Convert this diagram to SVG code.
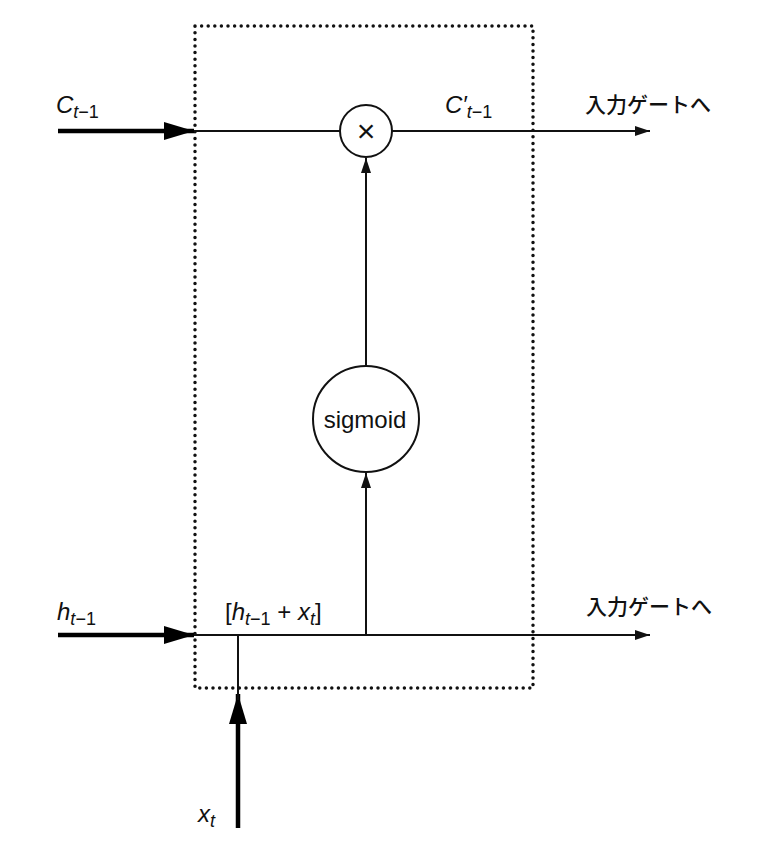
<svg xmlns="http://www.w3.org/2000/svg" width="778" height="862" viewBox="0 0 778 862">
  <style>
    .thin { stroke: #111; stroke-width: 2; fill: none; }
    .thick { stroke: #000; stroke-width: 4.5; fill: none; }
    .dots { stroke: #111; stroke-width: 3.5; fill: none; stroke-linecap: round; stroke-dasharray: 0 6.6; }
    .node { fill: #fff; stroke: #111; stroke-width: 2; }
    .lbl { font-family: "Liberation Sans", Arial, sans-serif; fill: #111; }
    .var { font-style: italic; font-size: 24px; }
    .sub { font-size: 18px; }
    .up { font-style: normal; }
    .jp { font-family: "Noto Sans CJK JP", "Liberation Sans", sans-serif; font-size: 21px; font-weight: 500; fill: #111; }
  </style>
  <defs>
    <marker id="bigHead" markerUnits="userSpaceOnUse" markerWidth="32" markerHeight="18" refX="30" refY="9" orient="auto">
      <path d="M0,0 L30,9 L0,18 Z" fill="#000"/>
    </marker>
    <marker id="smallHead" markerUnits="userSpaceOnUse" markerWidth="16" markerHeight="10" refX="15" refY="5" orient="auto">
      <path d="M0,0 L15,5 L0,10 Z" fill="#111"/>
    </marker>
  </defs>

  <rect width="778" height="862" fill="#fff"/>

  <!-- dotted cell boundary -->
  <rect class="dots" x="195" y="26" width="338" height="662"/>

  <g id="connectors">
    <!-- cell state path -->
    <line class="thick" x1="58" y1="131" x2="194" y2="131" marker-end="url(#bigHead)"/>
    <line class="thin" x1="194" y1="131" x2="340" y2="131"/>
    <line class="thin" x1="392" y1="131" x2="650" y2="131" marker-end="url(#smallHead)"/>
    <!-- hidden state path -->
    <line class="thick" x1="58" y1="635" x2="194" y2="635" marker-end="url(#bigHead)"/>
    <line class="thin" x1="194" y1="635" x2="650" y2="635" marker-end="url(#smallHead)"/>
    <!-- input x_t -->
    <line class="thick" x1="238" y1="828" x2="238" y2="694" marker-end="url(#bigHead)"/>
    <line class="thin" x1="238" y1="700" x2="238" y2="635"/>
    <!-- concat to sigmoid -->
    <line class="thin" x1="366" y1="635" x2="366" y2="473" marker-end="url(#smallHead)"/>
    <!-- sigmoid to multiply -->
    <line class="thin" x1="366" y1="366" x2="366" y2="158" marker-end="url(#smallHead)"/>
  </g>

  <g id="multiply">
    <circle class="node" cx="366" cy="131" r="26"/>
    <text class="lbl" x="366" y="142" font-size="32" text-anchor="middle">×</text>
  </g>

  <g id="sigmoid">
    <circle class="node" cx="366" cy="419" r="53"/>
    <text class="lbl" x="365" y="428" font-size="24" text-anchor="middle">sigmoid</text>
  </g>

  <g id="label-c-prev">
    <text class="lbl var" x="56" y="113">C<tspan class="sub" dy="5">t<tspan class="up">−1</tspan></tspan></text>
  </g>
  <g id="label-c-prime">
    <text class="lbl var" x="445" y="113">C′<tspan class="sub" dy="5">t<tspan class="up">−1</tspan></tspan></text>
  </g>
  <g id="label-h-prev">
    <text class="lbl var" x="57" y="620">h<tspan class="sub" dy="5">t<tspan class="up">−1</tspan></tspan></text>
  </g>
  <g id="label-concat">
    <text class="lbl" x="225" y="620" font-size="24">[<tspan font-style="italic">h</tspan><tspan class="sub" font-style="italic" dy="5">t</tspan><tspan class="sub">−1</tspan><tspan dy="-5"> + </tspan><tspan font-style="italic">x</tspan><tspan class="sub" font-style="italic" dy="5">t</tspan><tspan dy="-5">]</tspan></text>
  </g>
  <g id="label-x">
    <text class="lbl var" x="198" y="822">x<tspan class="sub" dy="5">t</tspan></text>
  </g>
  <g id="label-out-c">
    <text class="jp" x="585" y="112">入力ゲートへ</text>
  </g>
  <g id="label-out-h">
    <text class="jp" x="586" y="614">入力ゲートへ</text>
  </g>
</svg>
